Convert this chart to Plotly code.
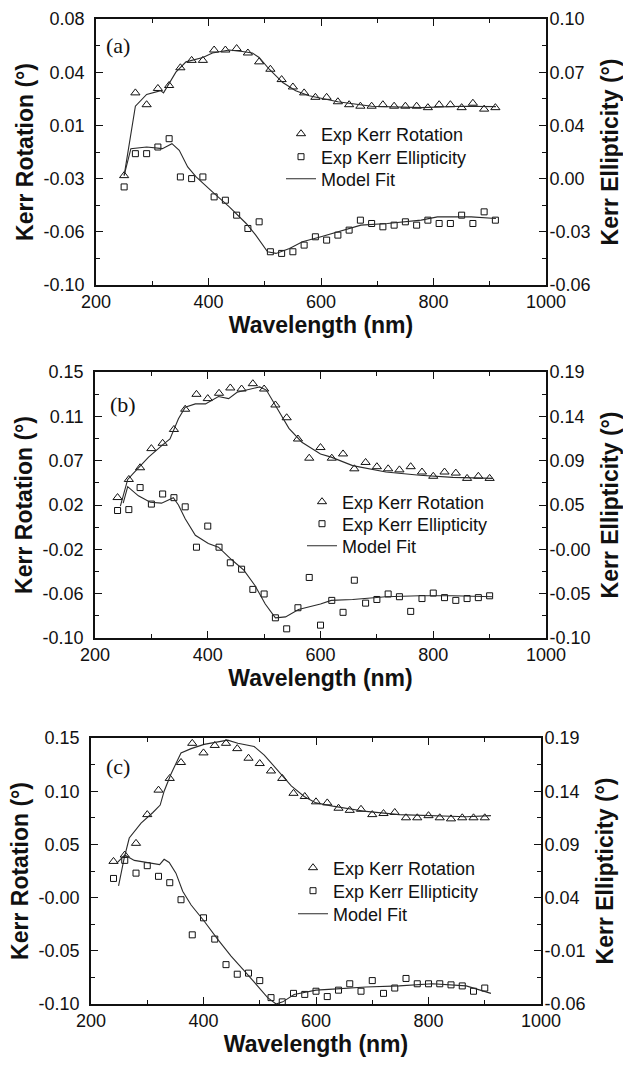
import numpy as np
import plotly.graph_objects as go

W, H = 623, 1068
FONT = "Arial, 'Liberation Sans', Helvetica, sans-serif"
SERIF = "'Times New Roman', 'Liberation Serif', serif"

# ---------------- Panel (a) ----------------
WL_A = [250, 270, 290, 310, 330, 350, 370, 390, 410, 430, 450, 470, 490, 510, 530, 550, 570,
        590, 610, 630, 650, 670, 690, 710, 730, 750, 770, 790, 810, 830, 850, 870, 890, 910]
ROT_A = [-0.026, 0.030, 0.022, 0.033, 0.035, 0.047, 0.052, 0.052, 0.059, 0.059, 0.060, 0.057,
         0.051, 0.046, 0.039, 0.034, 0.030, 0.027, 0.027, 0.024, 0.022, 0.021, 0.021, 0.022,
         0.021, 0.021, 0.021, 0.020, 0.022, 0.022, 0.020, 0.023, 0.019, 0.020]
ELL_A = [-0.001, 0.019, 0.019, 0.023, 0.028, 0.005, 0.004, 0.005, -0.007, -0.009, -0.018,
         -0.026, -0.022, -0.040, -0.041, -0.040, -0.036, -0.031, -0.033, -0.030, -0.027,
         -0.021, -0.023, -0.025, -0.024, -0.022, -0.024, -0.021, -0.023, -0.023, -0.018,
         -0.023, -0.016, -0.021]
FIT_A_WL_R = [250, 270, 290, 315, 320, 342, 360, 390, 407, 437, 460, 478, 490, 508, 532, 555,
              579, 600, 630, 690, 778, 849, 911]
FIT_A_ROT = [-0.026, 0.021, 0.029, 0.0315, 0.030, 0.044, 0.051, 0.054, 0.057, 0.059, 0.058,
             0.057, 0.054, 0.046, 0.037, 0.0315, 0.028, 0.0265, 0.024, 0.021, 0.020, 0.021, 0.0207]
FIT_A_WL_E = [250, 262, 290, 318, 335, 348, 363, 378, 407, 437, 467, 484, 505, 520, 544, 567,
              600, 630, 671, 718, 778, 807, 867, 911]
FIT_A_ELL = [0.006, 0.022, 0.023, 0.022, 0.025, 0.021, 0.011, 0.005, -0.004, -0.013, -0.023,
             -0.030, -0.040, -0.041, -0.038, -0.034, -0.031, -0.028, -0.024, -0.023, -0.021,
             -0.019, -0.019, -0.020]
LEFT_TICKS_A = ['-0.10', '-0.06', '-0.03', '0.01', '0.04', '0.08']
RIGHT_TICKS_A = ['-0.06', '-0.03', '0.00', '0.04', '0.07', '0.10']

# ---------------- Panel (b) ----------------
WL_B = [240, 260, 280, 300, 320, 340, 360, 380, 400, 420, 440, 460, 480, 500, 520, 540, 560,
        580, 600, 620, 640, 660, 680, 700, 720, 740, 760, 780, 800, 820, 840, 860, 880, 900]
ROT_B = [0.032, 0.049, 0.060, 0.078, 0.083, 0.096, 0.115, 0.129, 0.125, 0.130, 0.135, 0.134,
         0.139, 0.134, 0.119, 0.107, 0.087, 0.069, 0.079, 0.069, 0.073, 0.059, 0.065, 0.061,
         0.059, 0.058, 0.061, 0.056, 0.052, 0.056, 0.055, 0.050, 0.052, 0.050]
ELL_B = [0.039, 0.040, 0.064, 0.046, 0.057, 0.053, 0.043, -0.001, 0.022, -0.001, -0.018,
         -0.025, -0.047, -0.052, -0.078, -0.090, -0.067, -0.034, -0.086, -0.059, -0.072,
         -0.037, -0.062, -0.058, -0.052, -0.055, -0.071, -0.057, -0.051, -0.056, -0.059,
         -0.057, -0.056, -0.054]
FIT_B_WL_R = [245, 258, 270, 295, 321, 333, 348, 360, 378, 396, 419, 437, 452, 475, 492, 504,
              520, 544, 567, 600, 619, 657, 716, 776, 835, 906]
FIT_B_ROT = [0.024, 0.049, 0.056, 0.070, 0.082, 0.087, 0.106, 0.117, 0.120, 0.120, 0.127, 0.125,
             0.131, 0.134, 0.136, 0.133, 0.119, 0.097, 0.084, 0.073, 0.070, 0.062, 0.056, 0.053,
             0.051, 0.050]
FIT_B_WL_E = [250, 258, 277, 298, 318, 339, 348, 360, 378, 401, 419, 443, 464, 484, 502, 520,
              538, 561, 600, 619, 657, 716, 776, 835, 906]
FIT_B_ELL = [0.047, 0.065, 0.055, 0.048, 0.047, 0.053, 0.045, 0.030, 0.012, 0.003, -0.001,
             -0.015, -0.026, -0.043, -0.063, -0.078, -0.077, -0.069, -0.063, -0.059, -0.058,
             -0.055, -0.054, -0.054, -0.055]
LEFT_TICKS_B = ['-0.10', '-0.06', '-0.02', '0.02', '0.07', '0.11', '0.15']
RIGHT_TICKS_B = ['-0.10', '-0.05', '-0.00', '0.05', '0.09', '0.14', '0.19']

# ---------------- Panel (c) ----------------
WL_C = [240, 260, 280, 300, 320, 340, 360, 380, 400, 420, 440, 460, 480, 500, 520, 540, 560,
        580, 600, 620, 640, 660, 680, 700, 720, 740, 760, 780, 800, 820, 840, 860, 880, 900]
ROT_C = [0.034, 0.040, 0.051, 0.078, 0.101, 0.112, 0.127, 0.145, 0.136, 0.143, 0.145, 0.140,
         0.131, 0.126, 0.119, 0.112, 0.098, 0.095, 0.090, 0.089, 0.084, 0.082, 0.083, 0.078,
         0.079, 0.080, 0.075, 0.075, 0.077, 0.075, 0.074, 0.075, 0.075, 0.075]
ELL_C = [0.058, 0.075, 0.063, 0.070, 0.060, 0.054, 0.038, 0.005, 0.021, 0.001, -0.023, -0.032,
         -0.031, -0.038, -0.054, -0.058, -0.050, -0.051, -0.048, -0.053, -0.047, -0.041,
         -0.048, -0.038, -0.050, -0.045, -0.036, -0.041, -0.041, -0.041, -0.042, -0.043,
         -0.048, -0.045]
FIT_C_WL_R = [249, 259, 268, 289, 310, 323, 330, 342, 360, 378, 401, 425, 443, 461, 490, 508,
              532, 556, 579, 600, 630, 689, 748, 807, 867, 911]
FIT_C_ROT = [0.011, 0.037, 0.056, 0.070, 0.080, 0.087, 0.100, 0.116, 0.136, 0.140, 0.144, 0.146,
             0.148, 0.145, 0.142, 0.134, 0.120, 0.105, 0.095, 0.089, 0.086, 0.081, 0.078, 0.077,
             0.076, 0.077]
FIT_C_WL_E = [245, 260, 277, 301, 322, 330, 339, 351, 363, 378, 401, 425, 449, 473, 496, 514,
              529, 541, 561, 600, 630, 689, 748, 807, 867, 911]
FIT_C_ELL = [0.072, 0.080, 0.075, 0.073, 0.071, 0.076, 0.073, 0.063, 0.046, 0.033, 0.018, 0.001,
             -0.015, -0.029, -0.043, -0.054, -0.060, -0.058, -0.051, -0.047, -0.046, -0.044,
             -0.043, -0.041, -0.043, -0.050]
LEFT_TICKS_C = ['-0.10', '-0.05', '-0.00', '0.05', '0.10', '0.15']
RIGHT_TICKS_C = ['-0.06', '-0.01', '0.04', '0.09', '0.14', '0.19']

X_TICKS = [200, 400, 600, 800, 1000]
X_MINOR = [300, 500, 700, 900]
PANEL_LABELS = ['(a)', '(b)', '(c)']
LEGEND_NAMES = ['Exp Kerr Rotation', 'Exp Kerr Ellipticity', 'Model Fit']

panels = [
    dict(wl=WL_A, rot=ROT_A, ell=ELL_A, fwr=FIT_A_WL_R, frot=FIT_A_ROT, fwe=FIT_A_WL_E, fell=FIT_A_ELL,
         lr=(-0.10, 0.08), lt=LEFT_TICKS_A, rr=(-0.06, 0.10), rt=RIGHT_TICKS_A,
         box=(96, 546, 19, 285), leg=(281, (134, 157, 179)), lab=(118, 46)),
    dict(wl=WL_B, rot=ROT_B, ell=ELL_B, fwr=FIT_B_WL_R, frot=FIT_B_ROT, fwe=FIT_B_WL_E, fell=FIT_B_ELL,
         lr=(-0.10, 0.15), lt=LEFT_TICKS_B, rr=(-0.10, 0.19), rt=RIGHT_TICKS_B,
         box=(95, 546, 372, 638), leg=(302, (502, 524, 546)), lab=(123, 404)),
    dict(wl=WL_C, rot=ROT_C, ell=ELL_C, fwr=FIT_C_WL_R, frot=FIT_C_ROT, fwe=FIT_C_WL_E, fell=FIT_C_ELL,
         lr=(-0.10, 0.15), lt=LEFT_TICKS_C, rr=(-0.06, 0.19), rt=RIGHT_TICKS_C,
         box=(91, 541, 738, 1004), leg=(293, (868, 891, 914)), lab=(118, 766)),
]

fig = go.Figure()
layout = dict(width=W, height=H, margin=dict(l=0, r=0, t=0, b=0, autoexpand=False),
              paper_bgcolor='white', plot_bgcolor='white', showlegend=True,
              font=dict(family=FONT, color='black', size=18))
annotations = []

BLACK = '#111111'
FITC = '#2a2a2a'
TICKFONT = dict(size=18, family=FONT, color=BLACK)
TITLEFONT = dict(size=23, family=FONT, color=BLACK)


def tickset(rng, labels):
    n = len(labels) - 1
    vals = np.linspace(rng[0], rng[1], n + 1)
    minor = (vals[:-1] + vals[1:]) / 2
    return list(vals), list(minor)


def legname(n):
    return 'legend' if n == 1 else f'legend{n}'


for i, p in enumerate(panels):
    k = i + 1
    xname = 'x' if k == 1 else f'x{k}'
    yl = 2 * k - 1
    yr = 2 * k
    ylname = 'y' if yl == 1 else f'y{yl}'
    yrname = f'y{yr}'
    legs = [legname(3 * i + r + 1) for r in range(3)]
    x0, x1, y0, y1 = p['box']
    xdom = [x0 / W, x1 / W]
    ydom = [1 - y1 / H, 1 - y0 / H]

    fig.add_trace(go.Scatter(x=p['wl'], y=p['rot'], mode='markers', name=LEGEND_NAMES[0],
                             xaxis=xname, yaxis=ylname, legend=legs[0],
                             marker=dict(symbol='triangle-up-open', size=8, color=BLACK,
                                         line=dict(width=1, color=BLACK))))
    fig.add_trace(go.Scatter(x=p['wl'], y=p['ell'], mode='markers', name=LEGEND_NAMES[1],
                             xaxis=xname, yaxis=yrname, legend=legs[1],
                             marker=dict(symbol='square-open', size=6, color=BLACK,
                                         line=dict(width=1, color=BLACK))))
    fig.add_trace(go.Scatter(x=p['fwr'], y=p['frot'], mode='lines', name=LEGEND_NAMES[2],
                             xaxis=xname, yaxis=ylname, legend=legs[2],
                             line=dict(color=FITC, width=1.1)))
    fig.add_trace(go.Scatter(x=p['fwe'], y=p['fell'], mode='lines', name=LEGEND_NAMES[2],
                             xaxis=xname, yaxis=yrname, legend=legs[2], showlegend=False,
                             line=dict(color=FITC, width=1.1)))

    xk = 'xaxis' if k == 1 else f'xaxis{k}'
    layout[xk] = dict(domain=xdom, anchor=ylname, range=[200, 1000], tickmode='array',
                      tickvals=X_TICKS, ticks='inside', ticklen=7, tickwidth=1.3,
                      minor=dict(tickmode='array', tickvals=X_MINOR, ticks='inside', ticklen=4,
                                 tickwidth=1.2, tickcolor=BLACK),
                      showline=True, linewidth=1.7, linecolor=BLACK, mirror='ticks',
                      showgrid=False, zeroline=False, tickcolor=BLACK, automargin=False,
                      tickfont=TICKFONT,
                      title=dict(text='<b>Wavelength (nm)</b>', font=TITLEFONT, standoff=4))
    lv, lm = tickset(p['lr'], p['lt'])
    rv, rm = tickset(p['rr'], p['rt'])
    ylk = 'yaxis' if yl == 1 else f'yaxis{yl}'
    layout[ylk] = dict(domain=ydom, anchor=xname, range=list(p['lr']), tickmode='array',
                       tickvals=lv, ticktext=p['lt'], ticks='inside', ticklen=7, tickwidth=1.3,
                       minor=dict(tickmode='array', tickvals=lm, ticks='inside', ticklen=4,
                                  tickwidth=1.2, tickcolor=BLACK),
                       showline=True, linewidth=1.7, linecolor=BLACK, mirror=False,
                       showgrid=False, zeroline=False, tickcolor=BLACK, ticklabelstandoff=6,
                       automargin=False, tickfont=TICKFONT,
                       title=dict(text='<b>Kerr Rotation (°)</b>', font=TITLEFONT, standoff=3))
    layout[f'yaxis{yr}'] = dict(domain=ydom, anchor=xname, overlaying=ylname, side='right',
                                range=list(p['rr']), tickmode='array', tickvals=rv,
                                ticktext=p['rt'], ticks='inside', ticklen=7, tickwidth=1.3,
                                minor=dict(tickmode='array', tickvals=rm, ticks='inside',
                                           ticklen=4, tickwidth=1.2, tickcolor=BLACK),
                                showline=True, linewidth=1.7, linecolor=BLACK,
                                showgrid=False, zeroline=False, tickcolor=BLACK,
                                ticklabelstandoff=-2, automargin=False, tickfont=TICKFONT,
                                title=dict(text='<b>Kerr Ellipticity (°)</b>', font=TITLEFONT,
                                           standoff=12))
    for r in range(3):
        layout[legs[r]] = dict(x=p['leg'][0] / W, y=1 - p['leg'][1][r] / H, xanchor='left',
                               yanchor='middle', bgcolor='rgba(0,0,0,0)', borderwidth=0,
                               font=dict(size=18, family=FONT, color=BLACK),
                               traceorder='normal', tracegroupgap=0, itemwidth=30)
    annotations.append(dict(text=PANEL_LABELS[i], x=p['lab'][0] / W, y=1 - p['lab'][1] / H,
                            xref='paper', yref='paper', showarrow=False, xanchor='center',
                            yanchor='middle', font=dict(size=22, family=SERIF, color=BLACK)))

layout['annotations'] = annotations
fig.update_layout(**layout)
fig.write_html('out.html', config={'displayModeBar': False},
               post_script="document.body.style.margin='0';document.body.style.overflow='hidden';")
